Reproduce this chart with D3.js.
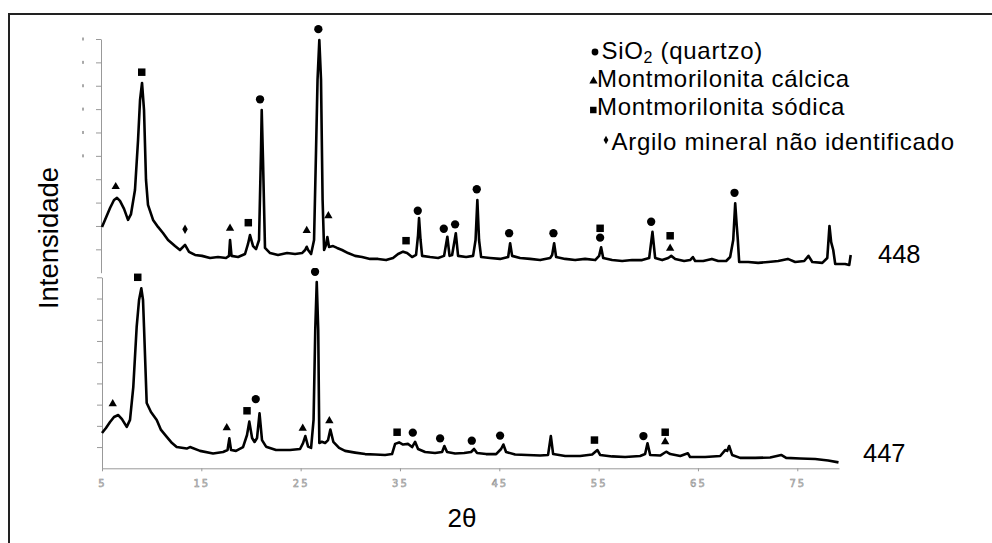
<!DOCTYPE html>
<html>
<head>
<meta charset="utf-8">
<script src="https://cdn.jsdelivr.net/npm/d3@7"></script>
<style>
  body { margin: 0; background: #fff; }
  svg { display: block; }
</style>
</head>
<body>
<svg id="chart" width="992" height="543"></svg>
<script>
// 2θ (degrees) vs intensity (a.u.), sample 448 (upper trace)
const scan448 = [
  [5.00,196],[5.30,226],[5.81,277],[6.21,311],[6.51,320],[6.81,307],[7.22,273],[7.62,226],[7.92,251],
  [8.32,354],[8.63,568],[8.83,739],[9.03,812],[9.23,696],[9.43,397],[9.63,290],[10.14,226],[10.64,196],
  [11.14,170],[11.65,140],[12.35,114],[12.85,97],[13.36,119],[13.76,89],[14.37,76],[15.07,72],[15.88,63],
  [16.68,67],[17.49,63],[17.79,72],[17.89,140],[18.04,72],[18.70,67],[19.40,80],[19.70,123],[19.90,161],
  [20.21,114],[20.51,101],[20.81,140],[21.01,525],[21.08,696],[21.21,482],[21.41,106],[21.92,84],[22.72,76],
  [23.63,84],[24.44,80],[25.14,84],[25.45,97],[25.61,111],[25.75,97],[26.05,80],[26.35,140],[26.55,525],
  [26.70,825],[26.88,995],[27.05,825],[27.21,311],[27.36,97],[27.56,119],[27.69,153],[27.86,110],[28.26,114],
  [28.67,106],[29.17,97],[29.77,84],[30.48,72],[31.18,67],[31.99,59],[32.79,59],[33.60,54],[34.30,63],
  [34.81,80],[35.31,90],[35.72,84],[36.22,67],[36.62,76],[36.82,161],[36.92,234],[37.07,140],[37.23,72],
  [38.03,67],[38.84,63],[39.44,72],[39.77,154],[39.99,72],[40.25,76],[40.62,169],[40.85,72],[41.66,67],
  [42.36,72],[42.61,140],[42.79,311],[42.96,140],[43.17,67],[44.07,63],[45.08,59],[45.89,67],[46.09,126],
  [46.29,72],[47.09,63],[48.10,59],[49.11,54],[50.12,63],[50.32,76],[50.52,126],[50.72,67],[51.63,59],
  [52.63,54],[53.64,59],[54.65,54],[55.05,72],[55.25,109],[55.46,63],[56.36,54],[57.37,50],[58.37,54],
  [59.38,54],[60.09,63],[60.42,175],[60.69,63],[61.40,54],[62.01,63],[62.31,72],[62.71,59],[63.61,50],
  [64.21,54],[64.49,67],[64.72,50],[65.53,50],[66.40,59],[67.04,50],[67.84,50],[68.24,67],[68.55,140],
  [68.75,297],[68.90,204],[69.00,149],[69.15,46],[70.06,46],[71.06,42],[72.07,46],[73.08,50],[74.05,59],
  [74.79,46],[75.70,50],[76.13,72],[76.51,46],[77.52,42],[78.02,63],[78.24,200],[78.41,131],[78.62,97],
  [78.82,37],[79.82,37],[80.23,33],[80.38,76]
];

// sample 447 (lower trace)
const scan447 = [
  [5.00,166],[5.40,190],[5.81,218],[6.21,242],[6.64,251],[7.01,232],[7.49,195],[7.82,228],[8.15,383],
  [8.49,666],[8.73,793],[8.96,848],[9.13,793],[9.23,666],[9.50,308],[9.93,265],[10.51,228],[10.94,181],
  [11.52,148],[12.05,119],[12.52,100],[13.53,93],[13.86,100],[14.87,82],[16.18,70],[17.19,77],[17.64,86],
  [17.82,141],[17.99,86],[18.49,82],[19.20,100],[19.60,157],[19.83,220],[20.11,143],[20.36,124],[20.61,143],
  [20.86,259],[21.11,133],[21.52,102],[22.52,86],[23.93,86],[24.94,91],[25.24,119],[25.47,152],[25.75,102],
  [26.05,96],[26.30,228],[26.47,652],[26.62,878],[26.77,652],[26.88,119],[27.13,125],[27.46,119],[27.76,133],
  [27.99,183],[28.29,125],[28.87,96],[29.47,82],[30.48,74],[31.49,67],[32.49,65],[33.50,63],[34.20,67],
  [34.51,115],[34.91,122],[35.31,112],[35.82,115],[36.22,100],[36.52,125],[36.82,91],[37.53,77],[38.53,72],
  [39.24,77],[39.47,105],[39.74,77],[40.55,70],[41.46,72],[42.16,77],[42.46,91],[42.76,72],[43.67,67],
  [44.68,67],[45.18,91],[45.41,112],[45.68,77],[46.59,65],[47.80,63],[49.11,60],[49.91,63],[50.19,152],
  [50.42,67],[51.63,58],[53.14,58],[54.35,65],[54.88,86],[55.15,63],[56.36,56],[57.67,53],[59.18,58],
  [59.68,67],[59.92,118],[60.19,63],[61.20,60],[61.60,72],[61.80,78],[62.21,67],[63.22,58],[63.98,71],
  [64.21,53],[65.73,53],[67.24,58],[67.74,86],[67.94,82],[68.14,105],[68.44,63],[69.25,49],[70.76,49],
  [72.27,51],[73.38,63],[73.88,49],[75.29,46],[76.80,44],[78.11,37],[79.15,28]
];

// phase markers: [shape, 2θ, intensity]
const marks448 = [
  ["triangle",6.38,368],["square",9.00,858],["diamond",13.36,186],["triangle",17.89,190],
  ["square",19.73,214],["circle",20.91,742],["triangle",25.61,180],["circle",26.78,1042],
  ["triangle",27.79,243],["square",35.61,137],["circle",36.79,265],["circle",39.41,188],
  ["circle",40.55,207],["circle",42.73,357],["circle",45.99,169],["circle",50.45,169],
  ["square",55.15,190],["circle",55.15,150],["circle",60.29,218],["square",62.20,158],
  ["triangle",62.20,104],["circle",68.68,342]
];
const marks447 = [
  ["triangle",6.08,304],["square",8.60,900],["triangle",17.56,191],["square",19.60,271],
  ["circle",20.48,326],["triangle",25.21,188],["circle",26.45,926],["triangle",27.89,224],
  ["square",34.71,170],["circle",36.29,168],["circle",39.04,141],["circle",42.23,130],
  ["circle",45.08,154],["square",54.58,133],["circle",59.51,152],["square",61.70,170],
  ["triangle",61.70,125]
];

const xTicks = [5, 15, 25, 35, 45, 55, 65, 75];
const legendShapes = ["circle", "triangle", "square", "diamond"];
const legendLabels = ["SiO|2| (quartzo)", "Montmorilonita cálcica", "Montmorilonita sódica", "Argilo mineral não identificado"];

const svg = d3.select('#chart');

const x = d3.scaleLinear().domain([5, 79.2]).range([102, 839]);
const yTop = d3.scaleLinear().domain([0, 1000]).range([272.7, 39]);
const yBot = d3.scaleLinear().domain([0, 900]).range([468.3, 277.3]);

const symbolTypes = {
  circle: [d3.symbolCircle, 54],
  triangle: [d3.symbolTriangle, 30],
  square: [d3.symbolSquare, 56],
  diamond: [d3.symbolDiamond, 26]
};

// outer frame (only top and left edges are visible)
svg.append('path')
   .attr('d', 'M9,543V14H992')
   .attr('fill', 'none')
   .attr('stroke', '#222')
   .attr('stroke-width', 2);

// axes
const axisColor = '#999';

const gTopAxis = svg.append('g')
   .attr('transform', 'translate(101,0)')
   .call(d3.axisLeft(yTop).tickValues(d3.range(100, 1001, 100)).tickSize(5).tickSizeOuter(0).tickFormat(''));

const gBotAxis = svg.append('g')
   .attr('transform', 'translate(102,0)')
   .call(d3.axisLeft(yBot).tickValues(d3.range(100, 901, 100)).tickSize(5).tickSizeOuter(0).tickFormat(''));

const gX = svg.append('g')
   .attr('transform', `translate(0,${yBot(0)})`)
   .call(d3.axisBottom(x).tickValues(xTicks).tickSize(3).tickSizeOuter(0).tickPadding(9));

[gTopAxis, gBotAxis, gX].forEach(g => {
  g.select('.domain').attr('stroke', axisColor);
  g.selectAll('.tick line').attr('stroke', axisColor);
});

gX.selectAll('.tick text')
  .attr('font-family', '"DejaVu Sans", sans-serif')
  .attr('font-size', 10)
  .attr('letter-spacing', 2)
  .attr('fill', '#ddd')
  .attr('stroke', '#888')
  .attr('stroke-width', 0.5);

// leftover label stubs next to the upper axis
svg.append('g')
  .selectAll('line')
  .data(d3.range(500, 1001, 100))
  .enter().append('line')
  .attr('x1', 83).attr('x2', 83)
  .attr('y1', d => yTop(d) - 1.5)
  .attr('y2', d => yTop(d) + 1.5)
  .attr('stroke', '#555')
  .attr('stroke-width', 1);

// traces
const line448 = d3.line().x(d => x(d[0])).y(d => yTop(d[1]));
const line447 = d3.line().x(d => x(d[0])).y(d => yBot(d[1]));

svg.append('path')
   .datum(scan448)
   .attr('fill', 'none')
   .attr('stroke', '#000')
   .attr('stroke-width', 2.6)
   .attr('stroke-linejoin', 'round')
   .attr('d', line448);

svg.append('path')
   .datum(scan447)
   .attr('fill', 'none')
   .attr('stroke', '#000')
   .attr('stroke-width', 2.6)
   .attr('stroke-linejoin', 'round')
   .attr('d', line447);

// peak markers
function symbolPath(shape) {
  const s = symbolTypes[shape];
  return d3.symbol().type(s[0]).size(s[1])();
}

svg.append('g')
  .selectAll('path')
  .data(marks448)
  .enter().append('path')
  .attr('d', d => symbolPath(d[0]))
  .attr('transform', d => `translate(${x(d[1])},${yTop(d[2])})`)
  .attr('fill', '#000');

svg.append('clipPath').attr('id', 'clip447')
  .append('rect').attr('x', 0).attr('y', 268).attr('width', 992).attr('height', 275);

svg.append('g')
  .attr('clip-path', 'url(#clip447)')
  .selectAll('path')
  .data(marks447)
  .enter().append('path')
  .attr('d', d => symbolPath(d[0]))
  .attr('transform', d => `translate(${x(d[1])},${yBot(d[2])})`)
  .attr('fill', '#000');

// legend
const font = 'Arial, "Liberation Sans", sans-serif';
const legendY = [59, 87, 115, 150];
const legendSymX = [595, 593.5, 593.3, 606];
const legendSymY = [52, 81, 110, 140];
const legendTextX = [601.5, 597, 597, 611.5];
const legendSymSize = { circle: 36, triangle: 30, square: 42, diamond: 20 };

legendShapes.forEach((shape, i) => {
  svg.append('path')
    .attr('d', d3.symbol().type(symbolTypes[shape][0]).size(legendSymSize[shape])())
    .attr('transform', `translate(${legendSymX[i]},${legendSymY[i]})`)
    .attr('fill', '#000');

  const t = svg.append('text')
    .attr('x', legendTextX[i])
    .attr('y', legendY[i])
    .attr('font-family', font)
    .attr('font-size', 24)
    .attr('letter-spacing', 0.7)
    .attr('fill', '#000');

  const parts = legendLabels[i].split('|');
  parts.forEach((p, k) => {
    const span = t.append('tspan').text(p);
    if (k === 1) span.attr('font-size', 16).attr('dy', 4);
    if (k === 2) span.attr('dy', -4);
  });
});

// sample labels
svg.append('text')
   .attr('x', 878).attr('y', 263)
   .attr('font-family', font).attr('font-size', 25.5)
   .text('448');

svg.append('text')
   .attr('x', 863).attr('y', 461.5)
   .attr('font-family', font).attr('font-size', 25.5)
   .text('447');

// axis titles
svg.append('text')
   .attr('transform', 'translate(58,238) rotate(-90)')
   .attr('text-anchor', 'middle')
   .attr('font-family', font).attr('font-size', 27.5)
   .text('Intensidade');

svg.append('text')
   .attr('x', 462).attr('y', 527)
   .attr('text-anchor', 'middle')
   .attr('font-family', font).attr('font-size', 26)
   .text('2θ');
</script>
</body>
</html>
